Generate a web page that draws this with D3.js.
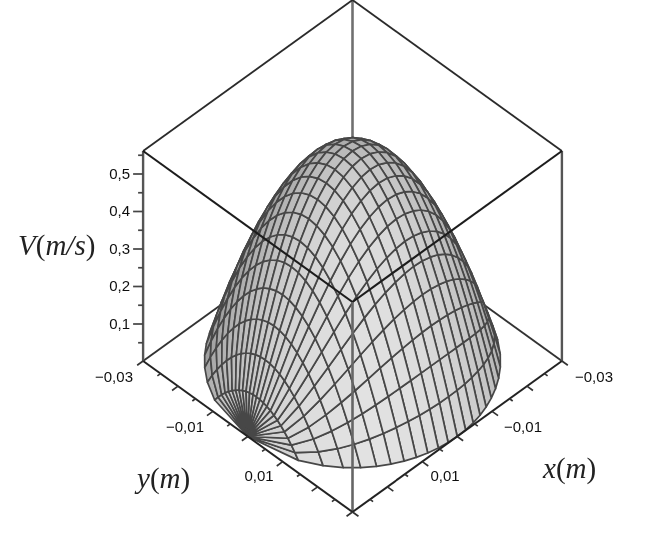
<!DOCTYPE html>
<html>
<head>
<meta charset="utf-8">
<script src="https://cdn.jsdelivr.net/npm/d3@7"></script>
<style>
  html, body { margin: 0; background: #fff; }
  text { font-family: "Liberation Sans", sans-serif; }
  .ttl { font-family: "Liberation Serif", serif; font-size: 29px; fill: #222; }
</style>
</head>
<body>
<svg id="chart" width="645" height="549"></svg>
<script>
// grid: 25 chords across x, 25 stations along each chord
var xStations = [-0.03,-0.0275,-0.025,-0.0225,-0.02,-0.0175,-0.015,-0.0125,-0.01,-0.0075,-0.005,-0.0025,0,
                 0.0025,0.005,0.0075,0.01,0.0125,0.015,0.0175,0.02,0.0225,0.025,0.0275,0.03];
var chordHalf = [0,0.01199,0.01658,0.01984,0.02236,0.02437,0.02598,0.02727,0.02828,0.02905,0.02958,0.0299,0.03,
                 0.0299,0.02958,0.02905,0.02828,0.02727,0.02598,0.02437,0.02236,0.01984,0.01658,0.01199,0];
var chordPeak = [0,0.089,0.171,0.245,0.311,0.369,0.42,0.463,0.498,0.525,0.544,0.556,0.56,
                 0.556,0.544,0.525,0.498,0.463,0.42,0.369,0.311,0.245,0.171,0.089,0];
var spanFractions = [-1,-0.917,-0.833,-0.75,-0.667,-0.583,-0.5,-0.417,-0.333,-0.25,-0.167,-0.083,0,
                     0.083,0.167,0.25,0.333,0.417,0.5,0.583,0.667,0.75,0.833,0.917,1];
var spanProfile = [0,0.16,0.306,0.4375,0.556,0.66,0.75,0.826,0.889,0.9375,0.972,0.993,1,
                   0.993,0.972,0.9375,0.889,0.826,0.75,0.66,0.556,0.4375,0.306,0.16,0];

var vMajor = [0,0.1,0.2,0.3,0.4,0.5];
var vMinor = [0.05,0.15,0.25,0.35,0.45,0.55];
var planMajor = [-0.03,-0.02,-0.01,0,0.01,0.02,0.03];
var planMinor = [-0.025,-0.015,-0.005,0.005,0.015,0.025];
var planLabels = [-0.03,-0.01,0.01];
var boxMin = -0.03, boxMax = 0.03, vTop = 0.56;

var svg = d3.select("#chart");
var defs = svg.append("defs");
defs.append("filter").attr("id","soft")
    .append("feGaussianBlur").attr("stdDeviation",0.6);
var root = svg.append("g").attr("filter","url(#soft)");

// oblique box projection
var xToSX = d3.scaleLinear().domain([boxMin,boxMax]).range([104.7,-104.7]);
var xToSY = d3.scaleLinear().domain([boxMin,boxMax]).range([-75.5,75.5]);
var yToSX = d3.scaleLinear().domain([boxMin,boxMax]).range([-104.7,104.7]);
var yToSY = d3.scaleLinear().domain([boxMin,boxMax]).range([-75.5,75.5]);
var vScale = d3.scaleLinear().domain([0,vTop]).range([361,151]);

function project(x, y, v) {
  return [352.5 + xToSX(x) + yToSX(y), vScale(v) + xToSY(x) + yToSY(y)];
}
var lineGen = d3.line();
function edge(a, b, color, w) {
  root.append("path")
    .attr("d", lineGen([project.apply(null,a), project.apply(null,b)]))
    .attr("fill","none").attr("stroke",color).attr("stroke-width",w);
}

// edges behind the surface
edge([boxMin,boxMin,0],[boxMin,boxMin,vTop],"#707070",2.6);
edge([boxMin,boxMin,0],[boxMax,boxMin,0],"#333",1.9);
edge([boxMin,boxMin,0],[boxMin,boxMax,0],"#333",1.9);
edge([boxMin,boxMin,vTop],[boxMax,boxMin,vTop],"#2a2a2a",1.8);
edge([boxMin,boxMin,vTop],[boxMin,boxMax,vTop],"#2a2a2a",1.8);
edge([boxMax,boxMin,0],[boxMax,boxMin,vTop],"#555",2.4);
edge([boxMin,boxMax,0],[boxMin,boxMax,vTop],"#555",2.4);

// surface cells, far ones first
var quads = [];
function cellPoint(i, j) {
  return { x: xStations[i], y: spanFractions[j]*chordHalf[i], v: chordPeak[i]*spanProfile[j] };
}
for (var i = 0; i < xStations.length-1; i++) {
  for (var j = 0; j < spanFractions.length-1; j++) {
    var c = [cellPoint(i,j),cellPoint(i+1,j),cellPoint(i+1,j+1),cellPoint(i,j+1)];
    var mx = d3.mean(c,function(p){return p.x;})/boxMax;
    var my = d3.mean(c,function(p){return p.y;})/boxMax;
    var mv = d3.mean(c,function(p){return p.v;});
    quads.push({pts:c, mx:mx, my:my, depth:72*(mx+my)+391*mv});
  }
}
quads.sort(function(a,b){return a.depth-b.depth;});

var shade = d3.scaleLinear().domain([-0.45,0.1,0.55,1]).range([95,150,190,226]).clamp(true);
function cellFill(q) {
  // light comes from the front, a bit to the right
  var nx = 1.5*q.mx, ny = 1.5*q.my, nz = 1;
  var len = Math.sqrt(nx*nx+ny*ny+nz*nz);
  var l = (nx*0.52 + ny*0.68 + nz*0.52)/len;
  var g = Math.round(shade(l));
  return d3.rgb(g,g,g).formatHex();
}
root.append("g").selectAll("path").data(quads).enter().append("path")
  .attr("d", function(q){
    return lineGen(q.pts.map(function(p){return project(p.x,p.y,p.v);}))+"Z";
  })
  .attr("fill",cellFill)
  .attr("stroke","#474747")
  .attr("stroke-width",1.7)
  .attr("stroke-linejoin","round");

// edges in front of the surface
edge([boxMax,boxMin,vTop],[boxMax,boxMax,vTop],"#1c1c1c",2.1);
edge([boxMin,boxMax,vTop],[boxMax,boxMax,vTop],"#1c1c1c",2.1);
edge([boxMax,boxMax,0],[boxMax,boxMax,vTop],"#666",2.6);
edge([boxMax,boxMin,0],[boxMax,boxMax,0],"#222",2);
edge([boxMin,boxMax,0],[boxMax,boxMax,0],"#222",2);

// V axis on the left vertical edge
var vLabel = function(d){ return d3.format(".1f")(d).replace(".",","); };
var axisX = project(boxMax,boxMin,0)[0];
var vAxis = root.append("g").attr("transform","translate("+axisX+",0)")
  .call(d3.axisLeft(vScale).tickValues(vMajor.slice(1)).tickSize(10).tickPadding(3).tickFormat(vLabel));
vAxis.select(".domain").remove();
vAxis.selectAll("line").attr("stroke","#444").attr("stroke-width",1.7);
vAxis.selectAll("text").attr("font-size",15).attr("fill","#111")
  .attr("font-family","Liberation Sans, sans-serif");
root.append("g").attr("transform","translate("+axisX+",0)")
  .call(d3.axisLeft(vScale).tickValues(vMinor).tickSize(5).tickFormat(""))
  .call(function(g){ g.select(".domain").remove(); g.selectAll("line").attr("stroke","#444").attr("stroke-width",1.7); });

// x and y ticks on the two front floor edges
function planTicks(vals, len) {
  vals.forEach(function(d){
    edge([d,boxMax,0],[d,boxMax+len,0],"#333",1.7);
    edge([boxMax,d,0],[boxMax+len,d,0],"#333",1.7);
  });
}
planTicks(planMajor,0.0017);
planTicks(planMinor,0.0009);

var planFmt = function(d){ return d3.format(".2f")(Math.abs(d)).replace(".",","); };
function planLabel(d, px, py) {
  root.append("text").attr("x",px).attr("y",py).attr("font-size",15).attr("fill","#111")
    .attr("text-anchor","middle")
    .text((d<0?"\u2212":"")+planFmt(d));
}
planLabel(planLabels[0],594,382);
planLabel(planLabels[1],523,432);
planLabel(planLabels[2],445,481);
planLabel(planLabels[0],114,382);
planLabel(planLabels[1],185,432);
planLabel(planLabels[2],259,481);

// axis titles, italic letters and upright brackets
function title(px, py, parts) {
  var t = root.append("text").attr("class","ttl").attr("x",px).attr("y",py);
  parts.forEach(function(p){
    t.append("tspan").attr("font-style",p[1]?"italic":"normal").text(p[0]);
  });
}
title(18,255,[["V",1],["(",0],["m/s",1],[")",0]]);
title(137,488,[["y",1],["(",0],["m",1],[")",0]]);
title(543,478,[["x",1],["(",0],["m",1],[")",0]]);
</script>
</body>
</html>
